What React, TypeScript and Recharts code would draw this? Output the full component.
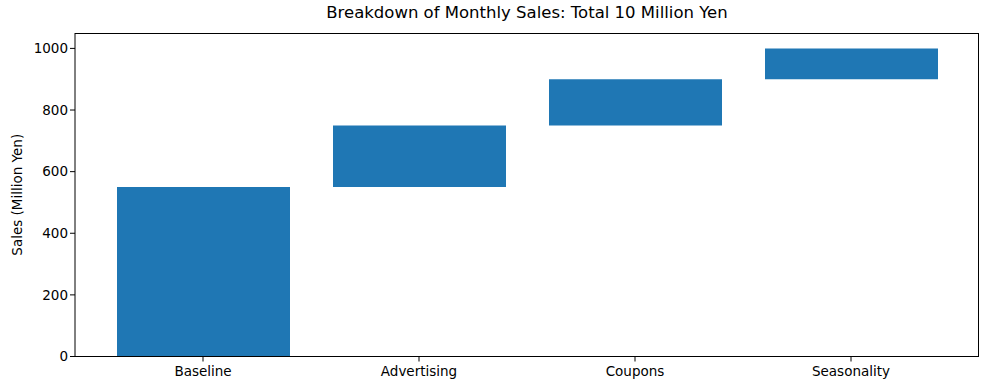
import React from 'react';
import { BarChart, Bar, XAxis, YAxis, Label } from 'recharts';

// waterfall steps (million yen)
const categories = ['Baseline', 'Advertising', 'Coupons', 'Seasonality'];
const increments = [550, 200, 150, 100];
const yTicks = [0, 200, 400, 600, 800, 1000];

const starts = increments.map((_, i) => increments.slice(0, i).reduce((s, v) => s + v, 0));
const data = categories.map((name, i) => ({ name, base: starts[i], delta: increments[i] }));

const FONT = 'DejaVu Sans, sans-serif';
const W = 989;
const H = 390;
const PLOT = { left: 75, top: 33, right: 979, bottom: 356.5 };

export default function App() {
  return (
    <div style={{ position: 'absolute', left: 0, top: 0, width: W, height: H, background: '#fff', fontFamily: FONT }}>
      <div style={{ position: 'absolute', left: PLOT.left, width: PLOT.right - PLOT.left, top: 3, textAlign: 'center', fontSize: 16.5, color: '#000' }}>
        Breakdown of Monthly Sales: Total 10 Million Yen
      </div>
      <BarChart
        width={W}
        height={H}
        data={data}
        margin={{ top: PLOT.top, right: W - PLOT.right, bottom: 0, left: 0 }}
        barCategoryGap={0}
      >
        <XAxis
          dataKey="name"
          height={H - PLOT.bottom}
          padding={{ left: 20, right: 20 }}
          tickSize={5}
          axisLine={{ stroke: '#000' }}
          tickLine={{ stroke: '#000' }}
          tick={{ fill: '#000', fontSize: 13.5, fontFamily: FONT, dy: 3 }}
        />
        <YAxis
          width={PLOT.left}
          domain={[0, 1050]}
          ticks={yTicks}
          tickSize={5}
          axisLine={{ stroke: '#000' }}
          tickLine={{ stroke: '#000' }}
          tick={{ fill: '#000', fontSize: 13.5, fontFamily: FONT }}
        >
          <Label
            value="Sales (Million Yen)"
            angle={-90}
            position="insideLeft"
            offset={17}
            style={{ textAnchor: 'middle', fill: '#000', fontSize: 13.5, fontFamily: FONT }}
          />
        </YAxis>
        <Bar dataKey="base" stackId="w" fill="transparent" barSize={173} isAnimationActive={false} />
        <Bar dataKey="delta" stackId="w" fill="#1f77b4" barSize={173} isAnimationActive={false} />
      </BarChart>
      {/* top and right spines */}
      <div
        style={{
          position: 'absolute',
          left: PLOT.left,
          top: PLOT.top,
          width: PLOT.right - PLOT.left,
          height: PLOT.bottom - PLOT.top,
          borderTop: '1px solid #000',
          borderRight: '1px solid #000',
          boxSizing: 'border-box',
          pointerEvents: 'none',
        }}
      />
    </div>
  );
}
